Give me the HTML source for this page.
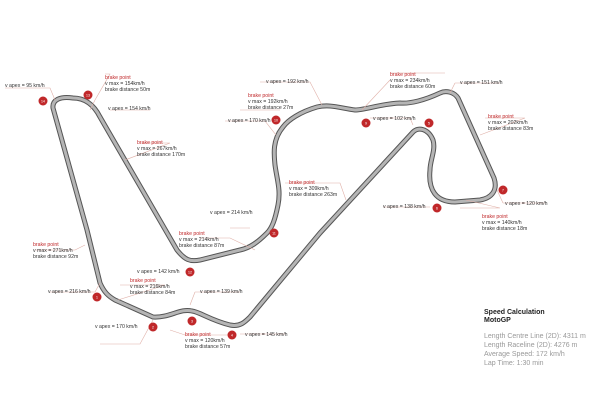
<!DOCTYPE html>
<html><head><style>
body{margin:0;background:#fff}
svg{display:block}
text{font-family:"Liberation Sans",sans-serif;font-size:5.2px;fill:#333}
.r{fill:#c0282a}
.l{stroke:#e0b0a8;stroke-width:0.6;fill:none}
.n{fill:#fff;font-size:3.5px;text-anchor:middle}
</style></head><body>
<svg width="600" height="400" viewBox="0 0 600 400">
<rect width="600" height="400" fill="#fff"/>
<path id="t" d="M73,98 C60,96 52,100 53,108 L87,230 L100,283 C104,292 108,296 115,300 L153,317 C170,318 180,308 192,311 C200,312 210,320 230,325 C240,327 245,322 250,317 L320,233 L413,132 C418,127 428,128 433,140 C436,150 430,160 430,170 C428,190 436,202 455,202 L480,200 C492,198 498,190 494,178 L458,98 C454,92 446,90 440,93 C425,100 410,104 400,103 C380,104 365,110 355,110 C340,108 330,104 317,107 C300,112 288,120 283,127 C272,140 274,155 275,165 C277,180 281,190 278,205 C275,220 272,228 267,233 C258,242 250,248 240,250 L200,260 C190,262 185,260 177,250 L100,117 C94,105 85,98 73,98 Z" fill="none" stroke="#555" stroke-width="5"/>
<path d="M73,98 C60,96 52,100 53,108 L87,230 L100,283 C104,292 108,296 115,300 L153,317 C170,318 180,308 192,311 C200,312 210,320 230,325 C240,327 245,322 250,317 L320,233 L413,132 C418,127 428,128 433,140 C436,150 430,160 430,170 C428,190 436,202 455,202 L480,200 C492,198 498,190 494,178 L458,98 C454,92 446,90 440,93 C425,100 410,104 400,103 C380,104 365,110 355,110 C340,108 330,104 317,107 C300,112 288,120 283,127 C272,140 274,155 275,165 C277,180 281,190 278,205 C275,220 272,228 267,233 C258,242 250,248 240,250 L200,260 C190,262 185,260 177,250 L100,117 C94,105 85,98 73,98 Z" fill="none" stroke="#b5b5b5" stroke-width="3"/>
<g class="l">
<path d="M5,88 H50 L55,100"/><path d="M105,74 H110 L95,100 L90,110"/><path d="M110,110 H150"/>
<path d="M140,143 H170 L125,160"/><path d="M85,245 L75,250 H35"/><path d="M50,292 H95 L100,283"/>
<path d="M120,285 H165 L118,300"/><path d="M100,344 H140 L153,320"/><path d="M195,292 H240"/><path d="M195,292 L190,305"/>
<path d="M170,330 L185,335 H230"/><path d="M240,334 H285"/><path d="M200,238 H230 L255,250"/>
<path d="M240,110 H280"/><path d="M225,121 H265 L276,135"/>
<path d="M260,82 H310 L322,105"/><path d="M285,183 H340 L346,200"/><path d="M390,73 H445"/><path d="M390,80 L362,110"/>
<path d="M370,118 H410 L413,125"/><path d="M455,83 H500"/><path d="M455,83 L450,93"/><path d="M485,118 H525 L480,135"/>
<path d="M503,203 H545"/><path d="M503,203 L497,190"/><path d="M460,208 H500 L466,200"/><path d="M383,207 H430"/><path d="M230,228 H250"/>
</g>
<g font-size="5">
<text x="5" y="87">v apex = 95 km/h</text>
<text x="105" y="79" class="r">brake point</text><text x="105" y="85">v max = 154km/h</text><text x="105" y="91">brake distance 50m</text>
<text x="108" y="110">v apex = 154 km/h</text>
<text x="137" y="144" class="r">brake point</text><text x="137" y="150">v max = 267km/h</text><text x="137" y="156">brake distance 170m</text>
<text x="33" y="246" class="r">brake point</text><text x="33" y="252">v max = 271km/h</text><text x="33" y="258">brake distance 92m</text>
<text x="48" y="293">v apex = 216 km/h</text>
<text x="130" y="282" class="r">brake point</text><text x="130" y="288">v max = 216km/h</text><text x="130" y="294">brake distance 84m</text>
<text x="137" y="273">v apex = 142 km/h</text>
<text x="200" y="293">v apex = 139 km/h</text>
<text x="95" y="328">v apex = 170 km/h</text>
<text x="185" y="336" class="r">brake point</text><text x="185" y="342">v max = 120km/h</text><text x="185" y="348">brake distance 57m</text>
<text x="245" y="336">v apex = 145 km/h</text>
<text x="210" y="214">v apex = 214 km/h</text>
<text x="179" y="235" class="r">brake point</text><text x="179" y="241">v max = 214km/h</text><text x="179" y="247">brake distance 87m</text>
<text x="266" y="83">v apex = 192 km/h</text>
<text x="248" y="97" class="r">brake point</text><text x="248" y="103">v max = 192km/h</text><text x="248" y="109">brake distance 27m</text>
<text x="228" y="122">v apex = 170 km/h</text>
<text x="289" y="184" class="r">brake point</text><text x="289" y="190">v max = 309km/h</text><text x="289" y="196">brake distance 263m</text>
<text x="390" y="76" class="r">brake point</text><text x="390" y="82">v max = 234km/h</text><text x="390" y="88">brake distance 60m</text>
<text x="373" y="120">v apex = 102 km/h</text>
<text x="460" y="84">v apex = 151 km/h</text>
<text x="488" y="118" class="r">brake point</text><text x="488" y="124">v max = 202km/h</text><text x="488" y="130">brake distance 83m</text>
<text x="505" y="205">v apex = 120 km/h</text>
<text x="383" y="208">v apex = 138 km/h</text>
<text x="482" y="218" class="r">brake point</text><text x="482" y="224">v max = 140km/h</text><text x="482" y="230">brake distance 18m</text>
</g>
<g fill="#c0282a">
<circle cx="43" cy="101" r="4.5"/><circle cx="88" cy="95" r="4.5"/><circle cx="276" cy="120" r="4.5"/><circle cx="274" cy="233" r="4.5"/>
<circle cx="190" cy="272" r="4.5"/><circle cx="97" cy="297" r="4.5"/><circle cx="153" cy="327" r="4.5"/><circle cx="192" cy="321" r="4.5"/>
<circle cx="232" cy="335" r="4.5"/><circle cx="366" cy="123" r="4.5"/><circle cx="429" cy="123" r="4.5"/><circle cx="503" cy="190" r="4.5"/><circle cx="437" cy="208" r="4.5"/>
</g>
<g>
<text class="n" x="43" y="102.3">14</text><text class="n" x="88" y="96.3">13</text><text class="n" x="276" y="121.3">10</text><text class="n" x="274" y="234.3">11</text>
<text class="n" x="190" y="273.3">12</text><text class="n" x="97" y="298.3">1</text><text class="n" x="153" y="328.3">2</text><text class="n" x="192" y="322.3">3</text>
<text class="n" x="232" y="336.3">4</text><text class="n" x="366" y="124.3">9</text><text class="n" x="429" y="124.3">5</text><text class="n" x="503" y="191.3">7</text><text class="n" x="437" y="209.3">6</text>
</g>
<text x="484" y="314" style="font-size:7px;font-weight:bold;fill:#222">Speed Calculation</text>
<text x="484" y="322" style="font-size:7px;font-weight:bold;fill:#222">MotoGP</text>
<text x="484" y="338" style="font-size:7px;fill:#999">Length Centre Line (2D): 4311 m</text>
<text x="484" y="347" style="font-size:7px;fill:#999">Length Raceline (2D): 4276 m</text>
<text x="484" y="356" style="font-size:7px;fill:#999">Average Speed: 172 km/h</text>
<text x="484" y="365" style="font-size:7px;fill:#999">Lap Time: 1:30 min</text>
</svg>
</body></html>
